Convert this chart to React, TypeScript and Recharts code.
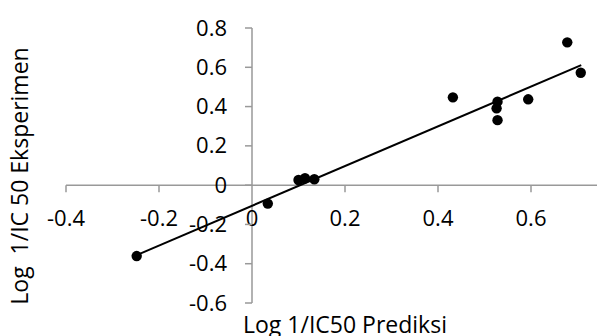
import React from 'react';
import { ScatterChart, Scatter, XAxis, YAxis, ReferenceLine, ReferenceDot } from 'recharts';

// Log 1/IC50 predicted (x) vs experimental (y)
const xPred = [-0.248, 0.034, 0.1, 0.114, 0.134, 0.432, 0.528, 0.526, 0.528, 0.594, 0.678, 0.707];
const yExp = [-0.361, -0.094, 0.026, 0.035, 0.03, 0.447, 0.425, 0.391, 0.331, 0.437, 0.727, 0.572];

// linear trendline end points
const trendX = [-0.248, 0.708];
const trendY = [-0.356, 0.611];

const xTicks = [-0.4, -0.2, 0, 0.2, 0.4, 0.6];
const xTickLabels = ['-0.4', '-0.2', '0', '0.2', '0.4', '0.6'];
const yTicks = [-0.6, -0.4, -0.2, 0, 0.2, 0.4, 0.6, 0.8];
const yTickLabels = ['-0.6', '-0.4', '-0.2', '0', '0.2', '0.4', '0.6', '0.8'];

const xTitle = 'Log 1/IC50 Prediksi';
const yTitle = 'Log  1/IC 50 Eksperimen';

const points = xPred.map((x, i) => ({ x, y: yExp[i] }));
const trend = trendX.map((x, i) => ({ x, y: trendY[i] }));

const FONT = '"Open Sans", sans-serif';
const AXIS = '#999999';

const Dot = (p: any) => <circle cx={p.cx} cy={p.cy} r={5.2} fill="#000" />;
const NoDot = () => <g />;

const xTickShape = (label: string, mark: boolean) => (p: any) => (
  <g>
    {mark && <line x1={p.cx} y1={p.cy} x2={p.cx} y2={p.cy + 7} stroke={AXIS} strokeWidth={1.5} />}
    <text x={p.cx} y={p.cy + 41} textAnchor="middle" fontFamily={FONT} fontSize={22} fill="#000">
      {label}
    </text>
  </g>
);

const yTickShape = (label: string) => (p: any) => (
  <g>
    <line x1={p.cx - 7} y1={p.cy} x2={p.cx} y2={p.cy} stroke={AXIS} strokeWidth={1.5} />
    <text x={p.cx - 25} y={p.cy + 7.5} textAnchor="end" fontFamily={FONT} fontSize={22} fill="#000">
      {label}
    </text>
  </g>
);

export default function App() {
  return (
    <div style={{ position: 'absolute', left: 0, top: 0, width: 597, height: 336, overflow: 'hidden', background: '#fff' }}>
      <ScatterChart width={624} height={336} margin={{ top: 28, right: 0, bottom: 33, left: 66 }}>
        <XAxis type="number" dataKey="x" domain={[-0.4, 0.8]} hide allowDataOverflow />
        <YAxis type="number" dataKey="y" domain={[-0.6, 0.8]} hide allowDataOverflow />
        <ReferenceLine y={0} stroke={AXIS} strokeWidth={1.5} />
        <ReferenceLine x={0} stroke={AXIS} strokeWidth={1.5} />
        {xTicks.map((t, i) => (
          <ReferenceDot key={'xt' + t} x={t} y={0} shape={xTickShape(xTickLabels[i], t !== 0)} />
        ))}
        {yTicks.map((t, i) => (
          <ReferenceDot key={'yt' + t} x={0} y={t} shape={yTickShape(yTickLabels[i])} />
        ))}
        <Scatter
          data={trend}
          line={{ stroke: '#000', strokeWidth: 2 }}
          shape={NoDot}
          isAnimationActive={false}
        />
        <Scatter data={points} shape={Dot} isAnimationActive={false} />
      </ScatterChart>
      <div
        style={{
          position: 'absolute', left: 195, top: 309, width: 300, height: 30, lineHeight: '30px',
          textAlign: 'center', fontFamily: FONT, fontSize: 23, color: '#000', whiteSpace: 'pre',
        }}
      >
        {xTitle}
      </div>
      <div
        style={{
          position: 'absolute', left: 19 - 150, top: 176 - 15, width: 300, height: 30, lineHeight: '30px',
          textAlign: 'center', fontFamily: FONT, fontSize: 23, color: '#000', whiteSpace: 'pre',
          transform: 'rotate(-90deg)',
        }}
      >
        {yTitle}
      </div>
    </div>
  );
}
